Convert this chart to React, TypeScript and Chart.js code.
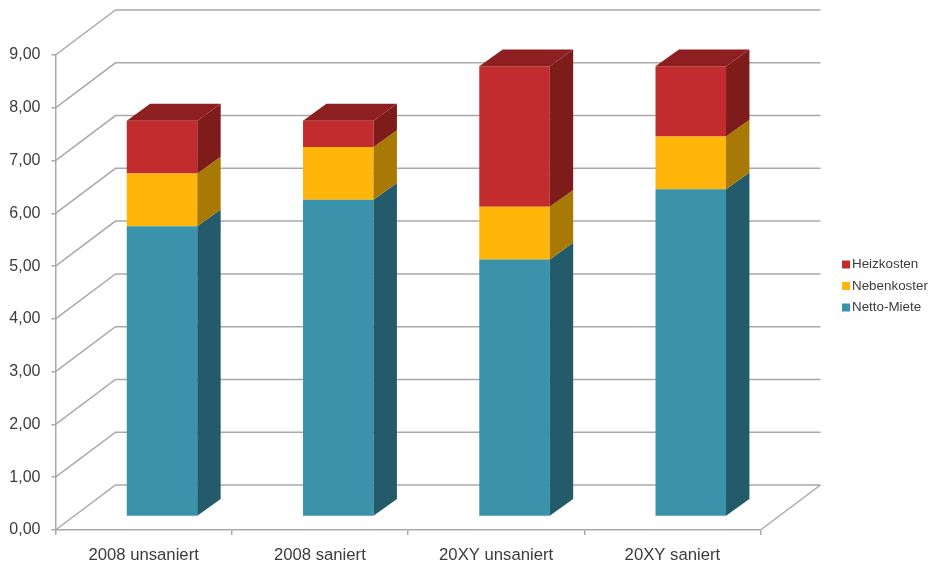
import React, { useEffect, useRef } from "react";
import { Chart, registerables } from "chart.js";

Chart.register(...registerables);

const categories = ["2008 unsaniert", "2008 saniert", "20XY unsaniert", "20XY saniert"];
const nettoMiete = [5.5, 6.0, 4.87, 6.2];
const nebenkosten = [1.0, 1.0, 1.0, 1.0];
const heizkosten = [1.0, 0.5, 2.66, 1.33];

const FONT = "'Liberation Sans', Arial, sans-serif";
const LINE = "#a9a9a9";
const TEXT = "#3c3c3c";

// Projection of the depth axis: the walls recede by WALL, the columns stand
// at BAR_SHIFT inside that room and are BAR_DEPTH deep.
const WALL = { x: 60, y: -45 };
const BAR_SHIFT = { x: 18.4, y: -13.5 };
const BAR_DEPTH = { x: 23.4, y: -16.8 };

const pseudo3d = {
  id: "pseudo3d",
  beforeDatasetsDraw(chart: any) {
    const { ctx, chartArea, scales } = chart;
    const { left, right, bottom } = chartArea;
    ctx.save();
    ctx.strokeStyle = LINE;
    ctx.lineWidth = 1.5;
    ctx.beginPath();
    for (const tick of scales.y.ticks) {
      const y = scales.y.getPixelForValue(tick.value);
      ctx.moveTo(left, y);
      ctx.lineTo(left + WALL.x, y + WALL.y);
      ctx.lineTo(right + WALL.x, y + WALL.y);
    }
    // Floor's right-hand edge
    ctx.moveTo(right, bottom);
    ctx.lineTo(right + WALL.x, bottom + WALL.y);
    ctx.stroke();
    ctx.restore();
    // Column fronts are drawn by the library in this shifted space
    ctx.save();
    ctx.translate(BAR_SHIFT.x, BAR_SHIFT.y);
  },
  afterDatasetsDraw(chart: any) {
    const { ctx, data } = chart;
    const last = data.datasets.length - 1;
    data.datasets.forEach((ds: any, i: number) => {
      chart.getDatasetMeta(i).data.forEach((bar: any) => {
        const { x, y, base, width } = bar.getProps(["x", "y", "base", "width"], true);
        const l = x - width / 2;
        const r = x + width / 2;
        ctx.fillStyle = ds.sideColor;
        ctx.beginPath();
        ctx.moveTo(r, base);
        ctx.lineTo(r + BAR_DEPTH.x, base + BAR_DEPTH.y);
        ctx.lineTo(r + BAR_DEPTH.x, y + BAR_DEPTH.y);
        ctx.lineTo(r, y);
        ctx.closePath();
        ctx.fill();
        if (i === last) {
          ctx.fillStyle = ds.topColor;
          ctx.beginPath();
          ctx.moveTo(l, y);
          ctx.lineTo(l + BAR_DEPTH.x, y + BAR_DEPTH.y);
          ctx.lineTo(r + BAR_DEPTH.x, y + BAR_DEPTH.y);
          ctx.lineTo(r, y);
          ctx.closePath();
          ctx.fill();
        }
      });
    });
    ctx.restore();
  },
  afterDraw(chart: any) {
    // Legend keys, top of the stack first
    const { ctx, data } = chart;
    ctx.save();
    ctx.font = `13.4px ${FONT}`;
    ctx.textBaseline = "middle";
    [...data.datasets].reverse().forEach((ds: any, i: number) => {
      const cy = 264.5 + i * 21.5;
      ctx.fillStyle = ds.backgroundColor;
      ctx.fillRect(842, cy - 4, 8, 8);
      ctx.fillStyle = TEXT;
      ctx.fillText(ds.label, 852, cy);
    });
    ctx.restore();
  },
};

export default function App() {
  const ref = useRef<HTMLCanvasElement>(null);

  useEffect(() => {
    const chart = new Chart(ref.current!, {
      type: "bar",
      data: {
        labels: categories,
        datasets: [
          { label: "Netto-Miete", data: nettoMiete, backgroundColor: "#3A93AB", sideColor: "#235B6B" },
          { label: "Nebenkosten", data: nebenkosten, backgroundColor: "#FFB50A", sideColor: "#A87A05" },
          { label: "Heizkosten", data: heizkosten, backgroundColor: "#C22C2E", sideColor: "#7E1C1C", topColor: "#8E1F20" },
        ] as any,
      },
      options: {
        animation: false,
        responsive: false,
        events: [],
        layout: { padding: { top: 55, right: 167.5, bottom: 0, left: 0 } },
        datasets: { bar: { barPercentage: 0.4, categoryPercentage: 1 } },
        plugins: { legend: { display: false }, tooltip: { enabled: false }, title: { display: false } },
        scales: {
          x: {
            stacked: true,
            afterFit(axis: any) {
              axis.height = 34;
            },
            border: { color: LINE, width: 1.5 },
            grid: { drawOnChartArea: false, color: LINE, lineWidth: 1.5, tickLength: 5, offset: true },
            ticks: { color: TEXT, font: { family: FONT, size: 16.7 }, padding: 10, maxRotation: 0 },
          },
          y: {
            stacked: true,
            min: 0,
            max: 9,
            afterFit(axis: any) {
              axis.width = 55.5;
            },
            border: { color: LINE, width: 1.5 },
            grid: { drawOnChartArea: false, color: LINE, lineWidth: 1.5, tickLength: 4 },
            ticks: {
              stepSize: 1,
              color: TEXT,
              font: { family: FONT, size: 16 },
              padding: 11,
              callback: (v: any) => Number(v).toFixed(2).replace(".", ","),
            },
          },
        },
      },
      plugins: [pseudo3d],
    } as any);
    return () => chart.destroy();
  }, []);

  return (
    <div style={{ position: "fixed", left: 0, top: 0, width: 928, height: 564, background: "#fff", overflow: "hidden" }}>
      <canvas ref={ref} width={928} height={564} style={{ display: "block" }} />
    </div>
  );
}
